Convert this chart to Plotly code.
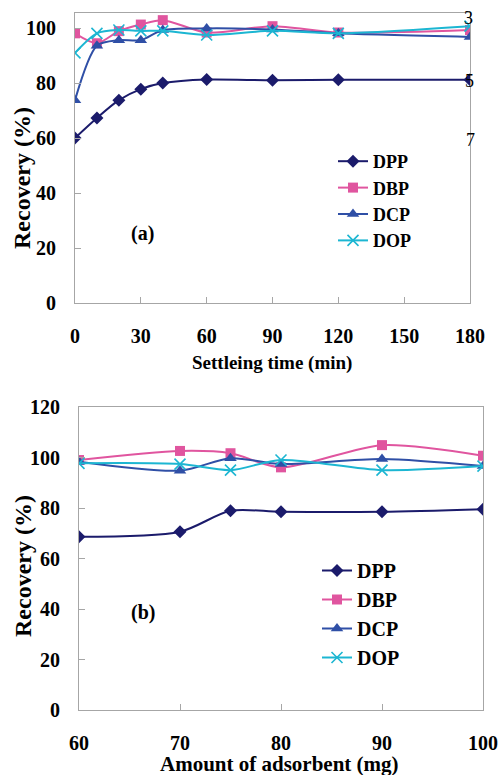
import plotly.graph_objects as go

# ---- data (a) ----
time_min = [0, 10, 20, 30, 40, 60, 90, 120, 180]
a_dpp = [60.0, 67.3, 73.8, 77.8, 80.0, 81.3, 81.0, 81.2, 81.2]
a_dbp = [98.1, 94.5, 98.9, 101.3, 102.9, 98.4, 100.7, 98.4, 99.3]
a_dcp = [73.8, 93.6, 95.6, 95.6, 99.3, 99.9, 99.5, 98.1, 96.8]
a_dop = [91.0, 98.1, 99.3, 99.0, 99.0, 97.5, 99.0, 98.1, 100.7]

# ---- data (b) ----
adsorbent_mg = [60, 70, 75, 80, 90, 100]
b_dpp = [68.6, 70.6, 78.9, 78.5, 78.5, 79.5]
b_dbp = [99.0, 102.6, 101.7, 96.1, 104.9, 100.7]
b_dcp = [98.3, 94.8, 99.7, 97.4, 99.4, 96.6]
b_dop = [97.7, 97.4, 95.0, 99.0, 95.0, 96.6]

names = ["DPP", "DBP", "DCP", "DOP"]
colors = ["#1b1b6b", "#e0559f", "#2f4fa6", "#1cb6d2"]
symbols = ["diamond", "square", "triangle-up", "x-thin"]
sizes = [10, 10, 11, 11]

SERIF = "Liberation Serif"

W, H = 500, 775

def px(v):
    return v / W

def py(v):
    return 1 - v / H

fig = go.Figure()

def add_series(x, ys, xa, ya, legend):
    for i, (nm, y) in enumerate(zip(names, ys)):
        marker = dict(symbol=symbols[i], size=sizes[i], color=colors[i])
        if symbols[i] == "x-thin":
            marker["line"] = dict(width=1.6, color=colors[i])
        fig.add_trace(go.Scatter(
            x=x, y=y, name=nm, mode="lines+markers",
            line=dict(color=colors[i], width=2, shape="spline", smoothing=0.8),
            marker=marker, xaxis=xa, yaxis=ya, legend=legend,
            legendgroup=legend + nm,
        ))

add_series(time_min, [a_dpp, a_dbp, a_dcp, a_dop], "x", "y", "legend")
add_series(adsorbent_mg, [b_dpp, b_dbp, b_dcp, b_dop], "x2", "y2", "legend2")

axis_common = dict(
    showgrid=False, zeroline=False, showline=True, mirror=True,
    linecolor="#a6a6a6", linewidth=1, ticks="inside", ticklen=6,
    tickcolor="#a6a6a6", automargin=False,
    tickfont=dict(family=SERIF, size=20, color="black", weight="bold"),
)

fig.update_layout(
    template="none",
    width=W, height=H,
    margin=dict(l=0, r=0, t=0, b=0),
    font=dict(family=SERIF, color="black"),
    paper_bgcolor="white", plot_bgcolor="white",
    xaxis=dict(domain=[px(75), px(470)], anchor="y", range=[0, 180],
               tickvals=[0, 30, 60, 90, 120, 150, 180], ticklabelstandoff=15,
               **axis_common),
    yaxis=dict(domain=[py(303), py(13)], anchor="x", range=[0, 105.5],
               tickvals=[0, 20, 40, 60, 80, 100], ticklabelstandoff=14,
               **axis_common),
    xaxis2=dict(domain=[px(79), px(483)], anchor="y2", range=[60, 100],
                tickvals=[60, 70, 80, 90, 100], ticklabelstandoff=15,
                **axis_common),
    yaxis2=dict(domain=[py(710), py(407)], anchor="x2", range=[0, 120],
                tickvals=[0, 20, 40, 60, 80, 100, 120], ticklabelstandoff=14,
                **axis_common),
    legend=dict(x=px(333), y=py(143), xanchor="left", yanchor="top",
                bgcolor="rgba(0,0,0,0)", tracegroupgap=0,
                font=dict(family=SERIF, size=18, color="black", weight="bold")),
    legend2=dict(x=px(317), y=py(551), xanchor="left", yanchor="top",
                 bgcolor="rgba(0,0,0,0)", tracegroupgap=0,
                 font=dict(family=SERIF, size=20, color="black", weight="bold")),
    showlegend=True,
)

annotations = [
    dict(text="(a)", x=142, y=233, size=20, angle=0),
    dict(text="(b)", x=143, y=612, size=20, angle=0),
    dict(text="Settleing time (min)", x=272, y=363, size=19, angle=0),
    dict(text="Amount of adsorbent (mg)", x=279, y=764, size=21, angle=0),
    dict(text="Recovery (%)", x=22, y=178, size=24, angle=-90),
    dict(text="Recovery (%)", x=23, y=566, size=24, angle=-90),
]
for a in annotations:
    fig.add_annotation(text=a["text"], xref="paper", yref="paper",
                       x=px(a["x"]), y=py(a["y"]), showarrow=False,
                       textangle=a["angle"],
                       font=dict(family=SERIF, size=a["size"], color="black",
                                 weight="bold"),
                       xanchor="center", yanchor="middle")

stray_font = dict(family=SERIF, size=18, color="black")
for t, xx, yy in [("3", 468, 18), ("5", 469, 81), ("7", 470, 140)]:
    fig.add_annotation(text=t, xref="paper", yref="paper", x=px(xx), y=py(yy),
                       showarrow=False, font=stray_font,
                       xanchor="center", yanchor="middle")

fig.write_html(
    "out.html",
    config={"displayModeBar": False},
    post_script="document.body.style.margin='0px';"
                "document.documentElement.style.overflow='hidden';"
                "document.body.style.overflow='hidden';",
)
